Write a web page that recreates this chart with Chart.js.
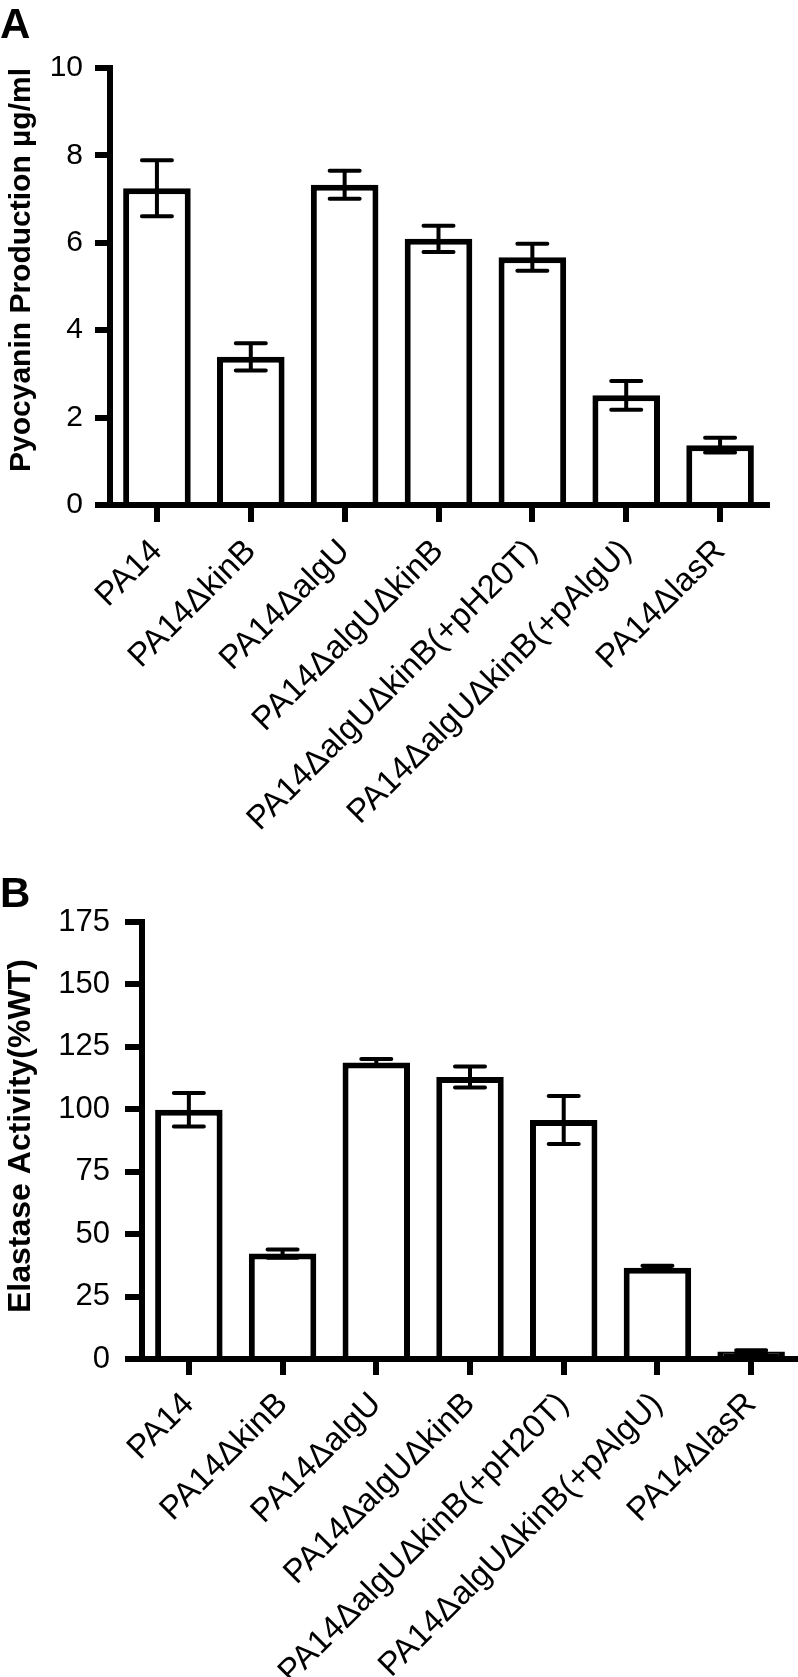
<!DOCTYPE html>
<html>
<head>
<meta charset="utf-8">
<script src="https://cdn.jsdelivr.net/npm/chart.js@4.4.0/dist/chart.umd.min.js"></script>
<style>
  html, body { margin: 0; padding: 0; background: #fff; }
  #page { position: relative; width: 798px; height: 1677px; overflow: hidden; }
  .panel { position: absolute; left: 0; }
  .letter { position: absolute; left: 0; margin: 0; line-height: 1;
            font: bold 42px "Liberation Sans", Arial, sans-serif; color: #000; }
</style>
</head>
<body>
<div id="page">
  <canvas id="chartA" class="panel" width="798" height="860" style="top:0"></canvas>
  <canvas id="chartB" class="panel" width="798" height="817" style="top:860px"></canvas>
  <div class="letter" style="top:0">A</div>
  <div class="letter" style="top:869px">B</div>
</div>
<script>
const categories = ['PA14', 'PA14ΔkinB', 'PA14ΔalgU', 'PA14ΔalgUΔkinB',
  'PA14ΔalgUΔkinB(+pH20T)', 'PA14ΔalgUΔkinB(+pAlgU)', 'PA14ΔlasR'];

// panel A: pyocyanin (µg/ml), mean and SEM
const pyocyaninMean = [7.25, 3.39, 7.33, 6.09, 5.67, 2.51, 1.37];
const pyocyaninErr  = [0.64, 0.31, 0.32, 0.30, 0.31, 0.33, 0.17];
const pyocyaninTicks = [0, 2, 4, 6, 8, 10];

// panel B: elastase (% of WT), mean and SEM
const elastaseMean = [99.8, 42.2, 118.7, 112.9, 95.7, 36.5, 3];
const elastaseErr  = [6.7, 1.7, 1.4, 4.2, 9.6, 0.8, 0.5];
const elastaseTicks = [0, 25, 50, 75, 100, 125, 150, 175];

Chart.defaults.font.family = '"Liberation Sans", Arial, sans-serif';
Chart.defaults.color = '#000';

// whiskers on top of the bars
const errorBars = {
  id: 'errorBars',
  afterDatasetsDraw(chart) {
    const ds = chart.data.datasets[0];
    const meta = chart.getDatasetMeta(0);
    const y = chart.scales.y;
    const ctx = chart.ctx;
    ctx.save();
    ctx.strokeStyle = '#000';
    ctx.lineWidth = 4;
    ctx.lineCap = 'round';
    meta.data.forEach((bar, i) => {
      const hi = y.getPixelForValue(ds.data[i] + ds.errors[i]);
      const lo = y.getPixelForValue(ds.data[i] - ds.errors[i]);
      ctx.beginPath();
      ctx.moveTo(bar.x, hi); ctx.lineTo(bar.x, lo);
      ctx.moveTo(bar.x - 15, hi); ctx.lineTo(bar.x + 15, hi);
      ctx.moveTo(bar.x - 15, lo); ctx.lineTo(bar.x + 15, lo);
      ctx.stroke();
    });
    // fill the little notch where the two axis lines meet
    const a = chart.chartArea;
    ctx.fillStyle = '#000';
    ctx.fillRect(a.left - 3, a.bottom - 3, 6, 6);
    ctx.restore();
  }
};

// a bar too short to show its white inside is drawn solid, as in the figure
function barFill(ctx) {
  const y = ctx.chart.scales.y;
  const v = ctx.raw;
  if (y && v != null && y.getPixelForValue(0) - y.getPixelForValue(v) < 12) return '#000';
  return '#fff';
}

function makeChart(id, means, errs, ticks, s) {
  return new Chart(document.getElementById(id), {
    type: 'bar',
    data: {
      labels: categories,
      datasets: [{
        data: means,
        errors: errs,
        backgroundColor: barFill,
        borderColor: '#000',
        borderWidth: 6,
        borderSkipped: 'start',
        categoryPercentage: 1,
        barPercentage: 0.72
      }]
    },
    options: {
      responsive: false,
      animation: false,
      devicePixelRatio: 1,
      layout: { padding: { top: s.top, right: s.right, left: 0, bottom: 0 } },
      plugins: { legend: { display: false }, tooltip: { enabled: false } },
      scales: {
        x: {
          afterFit: scale => { scale.height = s.xHeight; },
          grid: { offset: false, drawOnChartArea: false, color: '#000', lineWidth: 6, tickLength: s.xTick },
          border: { display: true, color: '#000', width: 6 },
          ticks: { autoSkip: false, minRotation: 45, maxRotation: 45, padding: 10,
                   font: { size: 33 }, color: '#000' }
        },
        y: {
          min: ticks[0],
          max: ticks[ticks.length - 1],
          afterFit: scale => { scale.width = s.yWidth; },
          grid: { drawOnChartArea: false, color: '#000', lineWidth: 6, tickLength: s.yTick },
          border: { display: true, color: '#000', width: 6 },
          ticks: { stepSize: ticks[1] - ticks[0], padding: s.yPad,
                   font: { size: s.yFont }, color: '#000' },
          title: { display: true, text: s.title, align: s.titleAlign,
                   padding: { top: s.titlePad, bottom: 0 },
                   font: { size: s.titleFont, weight: 'bold' }, color: '#000' }
        }
      }
    },
    plugins: [errorBars]
  });
}

makeChart('chartA', pyocyaninMean, pyocyaninErr, pyocyaninTicks, {
  top: 68, right: 31, xHeight: 355, yWidth: 110, xTick: 17, yTick: 15, yPad: 12,
  yFont: 30, title: 'Pyocyanin Production µg/ml', titleAlign: 'end', titleFont: 30, titlePad: 4
});

makeChart('chartB', elastaseMean, elastaseErr, elastaseTicks, {
  top: 62, right: 0, xHeight: 318, yWidth: 142, xTick: 16, yTick: 17, yPad: 15,
  yFont: 31, title: ' Elastase Activity(%WT)', titleAlign: 'center', titleFont: 32, titlePad: 2
});
</script>
</body>
</html>
